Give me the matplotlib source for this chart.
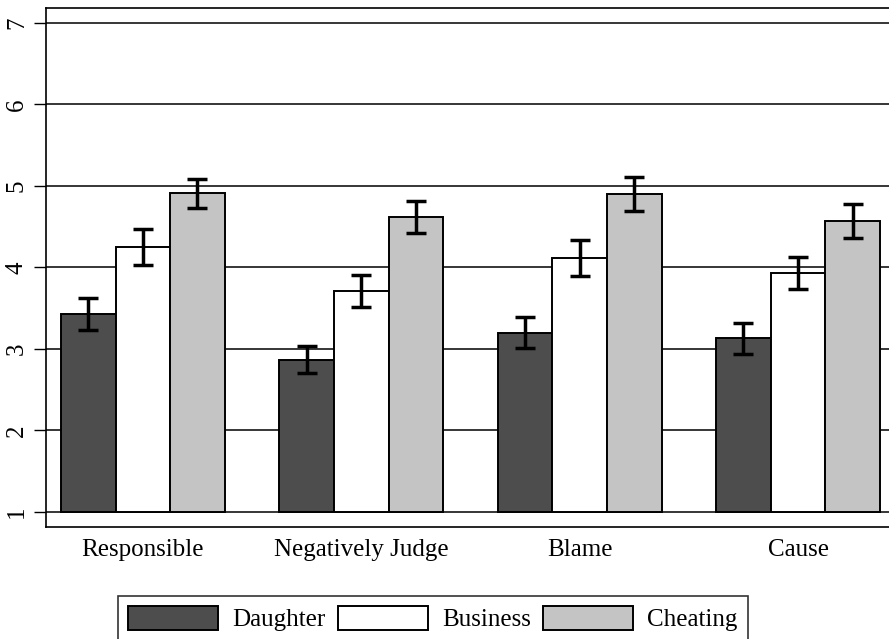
import numpy as np
import matplotlib.pyplot as plt

# chart data
categories = ['Responsible', 'Negatively Judge', 'Blame', 'Cause']
series = ['Daughter', 'Business', 'Cheating']
means = {
    'Daughter': [3.43, 2.87, 3.20, 3.13],
    'Business': [4.25, 3.71, 4.12, 3.93],
    'Cheating': [4.91, 4.62, 4.90, 4.57],
}
errors = {
    'Daughter': [0.20, 0.17, 0.19, 0.19],
    'Business': [0.22, 0.20, 0.22, 0.20],
    'Cheating': [0.18, 0.20, 0.21, 0.21],
}
colors = {'Daughter': '#4d4d4d', 'Business': '#ffffff', 'Cheating': '#c4c4c4'}

plt.rcParams['font.family'] = ['Liberation Serif', 'DejaVu Serif']

fig = plt.figure(figsize=(8.89, 6.39), dpi=100)
ax = fig.add_axes([0.0517, 0.1753, 0.9483, 0.8122])

x = np.arange(len(categories)) * 4.0
offsets = [-1, 0, 1]
for off, name in zip(offsets, series):
    ax.bar(x + off, np.array(means[name]) - 1, width=1.0, bottom=1,
           color=colors[name], edgecolor='black', linewidth=1.4,
           label=name, zorder=2)
    ax.errorbar(x + off, means[name], yerr=errors[name], fmt='none',
                ecolor='black', elinewidth=2.5, capsize=7, capthick=2.5,
                zorder=3)

ax.set_xlim(-1.775, 13.665)
ax.set_ylim(0.816, 7.184)
ax.set_yticks(range(1, 8))
ax.set_yticklabels([str(v) for v in range(1, 8)], rotation=90, va='center',
                   fontsize=18)
ax.tick_params(axis='y', length=9, width=1, pad=4)
ax.set_xticks(x)
ax.set_xticklabels(categories, fontsize=18)
ax.tick_params(axis='x', length=0, pad=9)
ax.yaxis.grid(True, color='black', linewidth=1.1, zorder=0)
ax.set_axisbelow(True)
ax.spines['right'].set_visible(False)
for s in ['left', 'top', 'bottom']:
    ax.spines[s].set_linewidth(1.2)

handles, labels = ax.get_legend_handles_labels()
leg = fig.legend(handles, labels, loc='upper center', ncol=3,
                 bbox_to_anchor=(0.487, 0.0673), fontsize=18,
                 handlelength=3.6, handleheight=1.1, columnspacing=0.5,
                 handletextpad=0.56, fancybox=False, edgecolor='black',
                 borderpad=0.4, borderaxespad=0)
leg.get_frame().set_linewidth(1.2)

fig.savefig('out.png', dpi=100)
